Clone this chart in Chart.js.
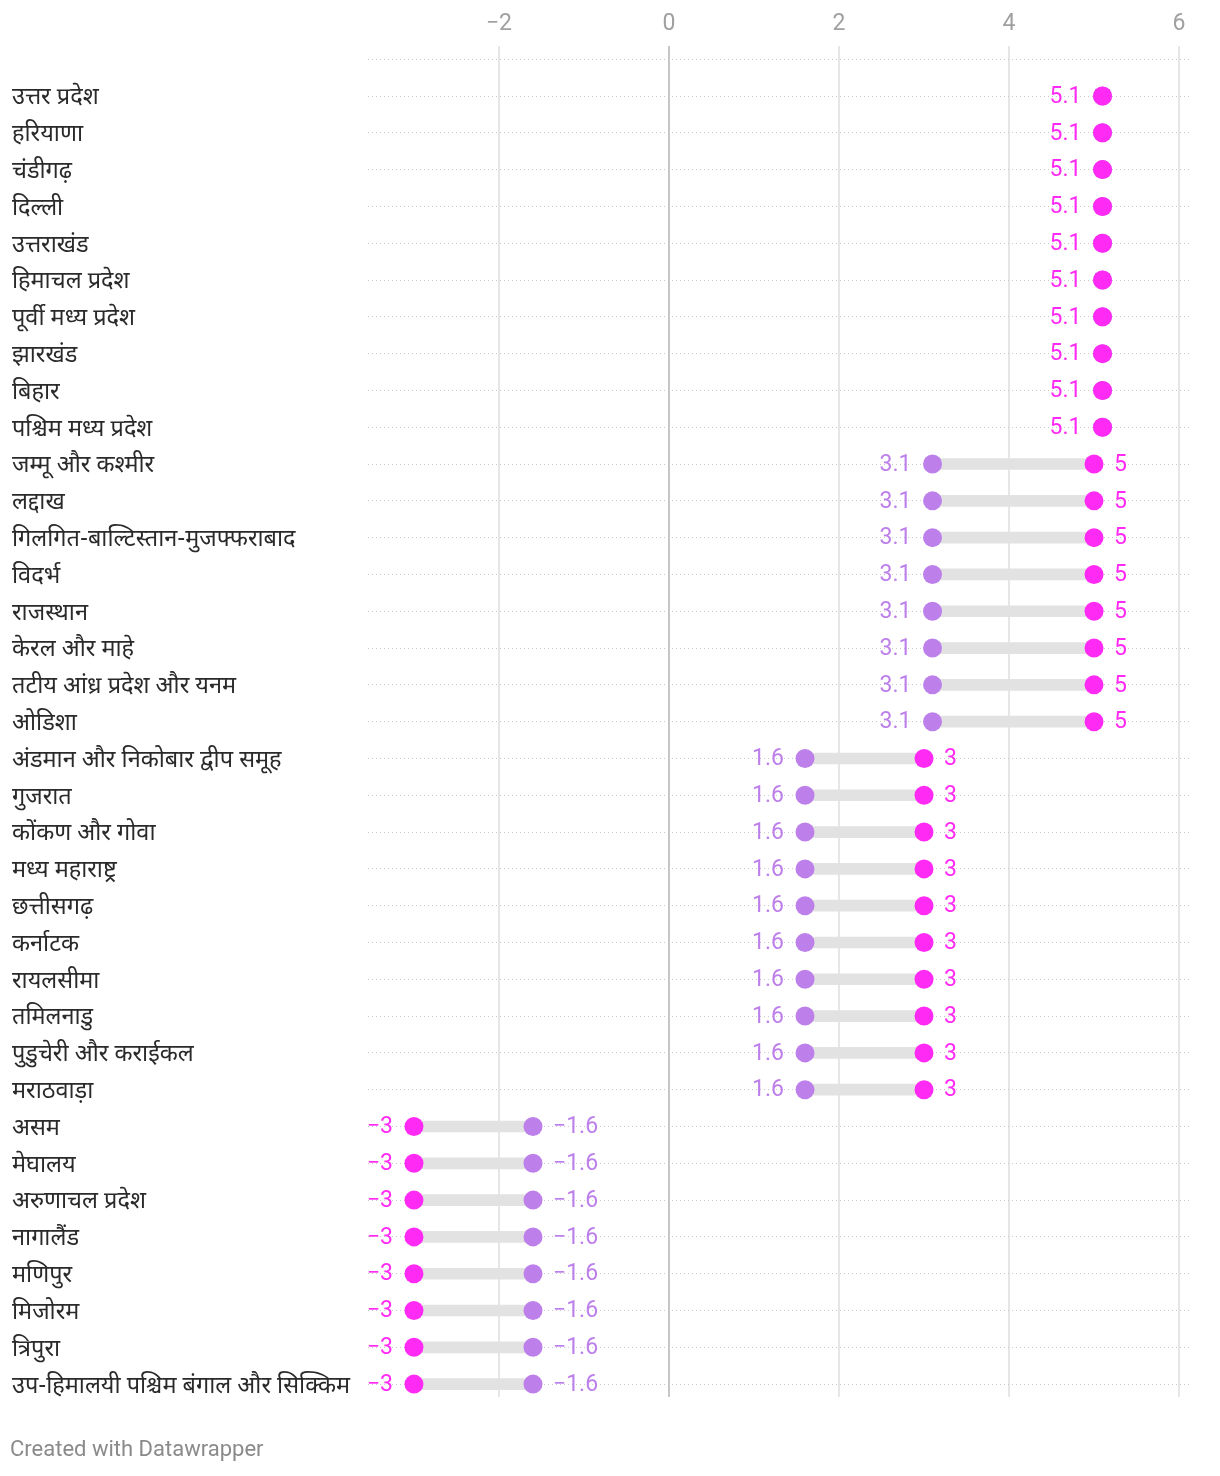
<!DOCTYPE html>
<html>
<head>
<meta charset="utf-8">
<script src="https://cdn.jsdelivr.net/npm/chart.js@4/dist/chart.umd.min.js"></script>
<style>
  body { margin: 0; background: #fff; }
  #wrap { position: relative; width: 1220px; height: 1476px; }
  #footer { position: absolute; left: 10px; top: 1436px; font: 22px Roboto, sans-serif; color: #8a8a8a; }
</style>
</head>
<body>
<div id="wrap">
  <canvas id="myChart"></canvas>
  <div id="footer">Created with Datawrapper</div>
</div>
<script>
let categories = [
  'उत्तर प्रदेश', 'हरियाणा', 'चंडीगढ़', 'दिल्ली', 'उत्तराखंड', 'हिमाचल प्रदेश',
  'पूर्वी मध्य प्रदेश', 'झारखंड', 'बिहार', 'पश्चिम मध्य प्रदेश',
  'जम्मू और कश्मीर', 'लद्दाख', 'गिलगित-बाल्टिस्तान-मुजफ्फराबाद', 'विदर्भ', 'राजस्थान',
  'केरल और माहे', 'तटीय आंध्र प्रदेश और यनम', 'ओडिशा',
  'अंडमान और निकोबार द्वीप समूह', 'गुजरात', 'कोंकण और गोवा', 'मध्य महाराष्ट्र', 'छत्तीसगढ़',
  'कर्नाटक', 'रायलसीमा', 'तमिलनाडु', 'पुडुचेरी और कराईकल', 'मराठवाड़ा',
  'असम', 'मेघालय', 'अरुणाचल प्रदेश', 'नागालैंड', 'मणिपुर', 'मिजोरम', 'त्रिपुरा',
  'उप-हिमालयी पश्चिम बंगाल और सिक्किम'
];
// purple dots
let purpleValues = [
  5.1, 5.1, 5.1, 5.1, 5.1, 5.1, 5.1, 5.1, 5.1, 5.1,
  3.1, 3.1, 3.1, 3.1, 3.1, 3.1, 3.1, 3.1,
  1.6, 1.6, 1.6, 1.6, 1.6, 1.6, 1.6, 1.6, 1.6, 1.6,
  -1.6, -1.6, -1.6, -1.6, -1.6, -1.6, -1.6, -1.6
];
// magenta dots
let magentaValues = [
  5.1, 5.1, 5.1, 5.1, 5.1, 5.1, 5.1, 5.1, 5.1, 5.1,
  5, 5, 5, 5, 5, 5, 5, 5,
  3, 3, 3, 3, 3, 3, 3, 3, 3, 3,
  -3, -3, -3, -3, -3, -3, -3, -3
];
let xTicks = [-2, 0, 2, 4, 6];

let purple = '#bd80ea';
let magenta = '#ff2af3';

function fmt(v) {
  return String(v).replace('-', '\u2212');
}

let valueLabels = {
  id: 'valueLabels',
  afterDatasetsDraw: function(chart) {
    let ctx = chart.ctx;
    let xs = chart.scales.x;
    let ys = chart.scales.y;
    ctx.save();
    ctx.font = '23px Roboto';
    ctx.textBaseline = 'middle';
    categories.forEach(function(c, i) {
      let a = purpleValues[i];
      let b = magentaValues[i];
      let py = ys.getPixelForValue(i) + 1;
      let lo, loCol, hi, hiCol;
      if (a < b) { lo = a; loCol = purple; hi = b; hiCol = magenta; }
      else { lo = b; loCol = magenta; hi = a; hiCol = purple; }
      ctx.fillStyle = loCol;
      ctx.textAlign = 'right';
      ctx.fillText(fmt(lo), xs.getPixelForValue(lo) - 21, py);
      if (a !== b) {
        ctx.fillStyle = hiCol;
        ctx.textAlign = 'left';
        ctx.fillText(fmt(hi), xs.getPixelForValue(hi) + 20, py);
      }
    });
    ctx.restore();
  }
};

function makeChart() {
  let ctx = document.getElementById('myChart').getContext('2d');
  new Chart(ctx, {
    type: 'scatter',
    data: {
      datasets: [
        {
          type: 'bar',
          indexAxis: 'y',
          data: categories.map(function(c, i) { return {x: [purpleValues[i], magentaValues[i]], y: i}; }),
          backgroundColor: '#e2e2e2',
          barThickness: 11,
          order: 3
        },
        {
          data: categories.map(function(c, i) { return {x: purpleValues[i], y: i}; }),
          backgroundColor: purple,
          pointRadius: 9.5,
          pointHoverRadius: 9.5,
          borderWidth: 0,
          order: 2
        },
        {
          data: categories.map(function(c, i) { return {x: magentaValues[i], y: i}; }),
          backgroundColor: magenta,
          pointRadius: 9.5,
          pointHoverRadius: 9.5,
          borderWidth: 0,
          order: 1
        }
      ]
    },
    options: {
      responsive: true,
      maintainAspectRatio: false,
      animation: false,
      layout: { padding: { left: 12, right: 30, top: 0, bottom: 79 } },
      plugins: { legend: { display: false }, tooltip: { enabled: false } },
      scales: {
        x: {
          type: 'linear',
          position: 'top',
          offset: false,
          min: -3.541,
          max: 6.129,
          afterBuildTicks: function(scale) {
            scale.ticks = xTicks.map(function(v) { return {value: v}; });
          },
          afterFit: function(scale) { scale.height = 46; },
          ticks: {
            color: '#a0a0a0',
            font: { family: 'Roboto', size: 23 },
            padding: 8,
            maxRotation: 0,
            callback: function(v) { return fmt(v); }
          },
          grid: {
            offset: false,
            drawTicks: false,
            lineWidth: 2,
            color: function(c) { return c.tick && c.tick.value === 0 ? '#c6c6c6' : '#e6e6e6'; }
          },
          border: { display: false }
        },
        y: {
          type: 'linear',
          reverse: true,
          offset: false,
          min: -1.359,
          max: 35.35,
          afterBuildTicks: function(scale) {
            let t = [];
            for (let i = -1; i < categories.length; i++) t.push({value: i});
            scale.ticks = t;
          },
          afterFit: function(scale) { scale.width = 356; },
          ticks: {
            crossAlign: 'far',
            color: '#2a2a2a',
            labelOffset: 4,
            font: { family: "'Noto Sans Devanagari', 'Noto Sans', Roboto, sans-serif", size: 23.5 },
            callback: function(v) { return categories[v] || ''; }
          },
          grid: {
            offset: false,
            drawTicks: false,
            color: '#c8c8c8',
            lineWidth: 1
          },
          border: { display: false, dash: [1, 3] }
        }
      }
    },
    plugins: [valueLabels]
  });
}

makeChart();
</script>
</body>
</html>
